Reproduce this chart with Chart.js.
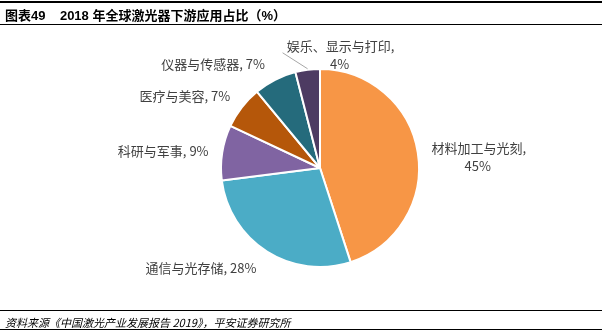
<!DOCTYPE html>
<html>
<head>
<meta charset="utf-8">
<script src="https://cdn.jsdelivr.net/npm/chart.js@4"></script>
<style>
	html, body { margin: 0; padding: 0; background: #fff; }
	#wrap { position: relative; width: 602px; height: 334px; overflow: hidden; }
	#chart { position: absolute; left: 0; top: 0; }
	.rule { position: absolute; left: 0; width: 602px; background: #000; }
	#title { position: absolute; left: 5px; top: 5px; font: bold 13px "Liberation Sans", "Noto Sans CJK SC", sans-serif; color: #000; white-space: pre; }
	#source { position: absolute; left: 5px; top: 314px; font: italic 11px "Noto Sans CJK SC", sans-serif; color: #000; white-space: pre; }
</style>
</head>
<body>
<div id="wrap">
	<canvas id="chart" width="602" height="334"></canvas>
	<div class="rule" style="top:1px;height:2px"></div>
	<div id="title">图表49    2018 年全球激光器下游应用占比（%）</div>
	<div class="rule" style="top:24px;height:1px"></div>
	<div class="rule" style="top:310px;height:1px"></div>
	<div id="source">资料来源《中国激光产业发展报告 2019》，平安证券研究所</div>
	<div class="rule" style="top:329px;height:1px"></div>
</div>
<script>
var categories = ['材料加工与光刻', '通信与光存储', '科研与军事', '医疗与美容', '仪器与传感器', '娱乐、显示与打印'];
var shares = [45, 28, 9, 7, 7, 4];
var slice_colors = ['#F79646', '#4BACC6', '#8064A2', '#B5570A', '#256B7C', '#4D3B62'];

// where each label sits, relative to the outer middle point of its slice
var label_offsets = [[61, -4], [-66, 16], [-59, -1], [-57, -11], [-62, -16], [33, -24]];

function slice_label_text(i) {
	// the long labels break after the comma
	if (i == 0 || i == 5) {
		return [categories[i] + ',', shares[i] + '%'];
	}
	return [categories[i] + ', ' + shares[i] + '%'];
}

const pieLabels = {
	id: 'pieLabels',
	afterDatasetsDraw(chart) {
		const ctx = chart.ctx;
		const meta = chart.getDatasetMeta(0);
		ctx.save();
		ctx.font = '13px "Noto Sans CJK SC", sans-serif';
		ctx.fillStyle = '#404040';
		ctx.textAlign = 'center';
		ctx.textBaseline = 'middle';
		meta.data.forEach(function (arc, i) {
			const mid = (arc.startAngle + arc.endAngle) / 2;
			const ex = arc.x + Math.cos(mid) * arc.outerRadius;
			const ey = arc.y + Math.sin(mid) * arc.outerRadius;
			const lx = ex + label_offsets[i][0];
			const ly = ey + label_offsets[i][1];
			const lines = slice_label_text(i);
			lines.forEach(function (t, k) {
				ctx.fillText(t, k == 1 ? lx - 1 : lx, ly + k * 18);
			});
			if (i == 5) {
				// leader line for the small slice
				ctx.strokeStyle = '#A6A6A6';
				ctx.lineWidth = 1;
				ctx.beginPath();
				ctx.moveTo(ex, ey - 1);
				ctx.lineTo(lx - 58, ly + 7);
				ctx.stroke();
			}
		});
		ctx.restore();
	}
};

new Chart(document.getElementById('chart'), {
	type: 'pie',
	data: {
		labels: categories,
		datasets: [{
			data: shares,
			backgroundColor: slice_colors,
			borderColor: '#ffffff',
			borderWidth: 2
		}]
	},
	options: {
		responsive: false,
		animation: false,
		layout: {
			padding: { top: 68, bottom: 66, left: 150, right: 112 }
		},
		plugins: {
			legend: { display: false },
			tooltip: { enabled: false }
		}
	},
	plugins: [pieLabels]
});
</script>
</body>
</html>
